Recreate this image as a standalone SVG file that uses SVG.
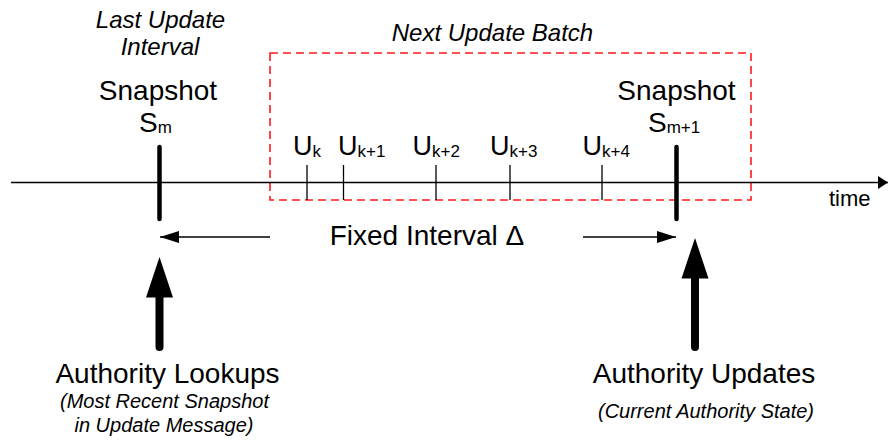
<svg xmlns="http://www.w3.org/2000/svg" width="888" height="445" viewBox="0 0 888 445">
<defs>
<style>
text{font-family:"Liberation Sans",Arial,sans-serif;fill:#000}
.lbl{font-size:28px}
.u{font-size:27px}
.sub{font-size:17px}
.it{font-style:italic;font-size:24px}
.cap{font-style:italic;font-size:20px}
.time{font-size:22px}
.snap{stroke:#000;stroke-width:4.5;stroke-linecap:round;fill:none}
.tick{stroke:#000;stroke-width:1.3;fill:none}
.thin{stroke:#000;stroke-width:1.5;fill:none}
.big{stroke:#000;stroke-width:8;stroke-linecap:round;fill:none}
</style>
<marker id="ah" markerWidth="19" markerHeight="12" refX="19" refY="6" orient="auto" markerUnits="userSpaceOnUse">
<path d="M0,0 L19,6 L0,12 z" fill="#000"/>
</marker>
<marker id="ta" markerWidth="10" markerHeight="13" refX="10" refY="6.5" orient="auto" markerUnits="userSpaceOnUse">
<path d="M0,0 L10,6.5 L0,13 z" fill="#000"/>
</marker>
</defs>
<rect width="888" height="445" fill="#fff"/>

<g id="batch">
<rect x="270" y="53" width="481" height="147" fill="none" stroke="#ff1a1a" stroke-width="1.6" stroke-dasharray="8 5"/>
<text class="it" x="492.5" y="41" text-anchor="middle">Next Update Batch</text>
</g>

<g id="connectors">
<line class="thin" x1="11" y1="182.5" x2="888" y2="182.5" marker-end="url(#ta)"/>
<line class="thin" x1="270" y1="237" x2="160" y2="237" marker-end="url(#ah)"/>
<line class="thin" x1="583" y1="237" x2="676" y2="237" marker-end="url(#ah)"/>
<line class="big" x1="159.5" y1="347" x2="159.5" y2="290"/>
<path d="M146,297.5 L159.5,257 L173,297.5 z" fill="#000"/>
<line class="big" x1="695" y1="347" x2="695" y2="271"/>
<path d="M681.5,278.5 L695,238 L708.5,278.5 z" fill="#000"/>
</g>

<g id="snapshot-m">
<line class="snap" x1="159.5" y1="147" x2="159.5" y2="219"/>
<text class="it" x="160.5" y="28" text-anchor="middle">Last Update</text>
<text class="it" x="160" y="55" text-anchor="middle">Interval</text>
<text class="lbl" x="158" y="100" text-anchor="middle">Snapshot</text>
<text class="lbl" x="139" y="132">S<tspan class="sub" dy="1">m</tspan></text>
</g>

<g id="snapshot-m1">
<line class="snap" x1="676.5" y1="147" x2="676.5" y2="219"/>
<text class="lbl" x="676.5" y="100" text-anchor="middle">Snapshot</text>
<text class="lbl" x="648" y="132">S<tspan class="sub" dy="1">m+1</tspan></text>
</g>

<g id="u-k">
<line class="tick" x1="307" y1="165" x2="307" y2="200"/>
<text class="u" x="293" y="155">U<tspan class="sub" dy="2">k</tspan></text>
</g>
<g id="u-k1">
<line class="tick" x1="343.5" y1="165" x2="343.5" y2="200"/>
<text class="u" x="338" y="155">U<tspan class="sub" dy="2">k+1</tspan></text>
</g>
<g id="u-k2">
<line class="tick" x1="436" y1="165" x2="436" y2="200"/>
<text class="u" x="412.5" y="155">U<tspan class="sub" dy="2">k+2</tspan></text>
</g>
<g id="u-k3">
<line class="tick" x1="510" y1="165" x2="510" y2="200"/>
<text class="u" x="490" y="155">U<tspan class="sub" dy="2">k+3</tspan></text>
</g>
<g id="u-k4">
<line class="tick" x1="602" y1="165" x2="602" y2="200"/>
<text class="u" x="582.5" y="155">U<tspan class="sub" dy="2">k+4</tspan></text>
</g>

<g id="time-label">
<text class="time" x="829" y="206">time</text>
</g>

<g id="interval-label">
<text class="lbl" x="427" y="245" text-anchor="middle">Fixed Interval Δ</text>
</g>

<g id="lookups">
<text class="lbl" x="167.5" y="383" text-anchor="middle">Authority Lookups</text>
<text class="cap" x="164.5" y="408" text-anchor="middle">(Most Recent Snapshot</text>
<text class="cap" x="164" y="432" text-anchor="middle">in Update Message)</text>
</g>

<g id="updates">
<text class="lbl" x="704" y="383" text-anchor="middle">Authority Updates</text>
<text class="cap" x="706" y="418" text-anchor="middle">(Current Authority State)</text>
</g>
</svg>
